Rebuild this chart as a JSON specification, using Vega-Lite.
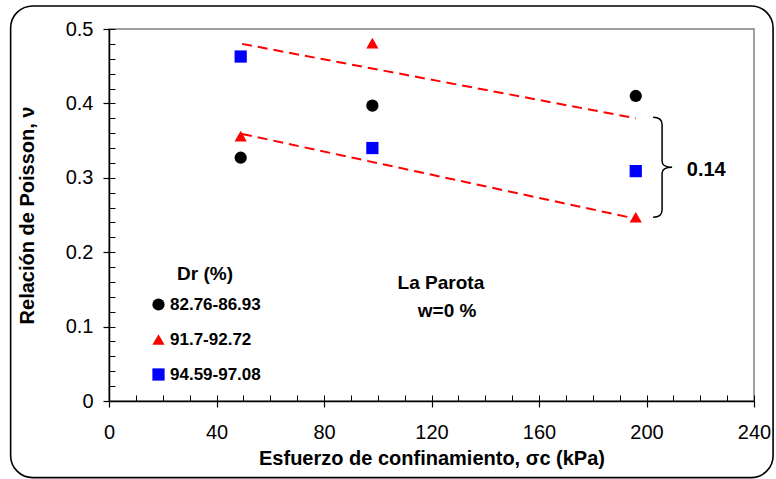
{
  "$schema": "https://vega.github.io/schema/vega-lite/v6.json",
  "autosize": {"type": "none"},
  "width": 645,
  "height": 372,
  "padding": {"left": 109, "top": 29, "right": 22, "bottom": 78},
  "background": "white",
  "config": {
    "font": "Liberation Sans",
    "view": {"stroke": "#808080", "strokeWidth": 1.5},
    "axis": {"grid": false, "labelFlush": false, "labelOverlap": false, "domainColor": "black", "domainWidth": 1.5, "tickColor": "black", "tickWidth": 1.2, "labelColor": "black", "titleColor": "black", "labelFont": "Liberation Sans", "titleFont": "Liberation Sans"},
    "legend": {"labelFont": "Liberation Sans", "titleFont": "Liberation Sans"}
  },
  "datasets": {
    "pts": [
      {"x": 49, "y": 0.327, "Dr": "82.76-86.93"},
      {"x": 98, "y": 0.397, "Dr": "82.76-86.93"},
      {"x": 196, "y": 0.41, "Dr": "82.76-86.93"},
      {"x": 49, "y": 0.356, "Dr": "91.7-92.72"},
      {"x": 98, "y": 0.481, "Dr": "91.7-92.72"},
      {"x": 196, "y": 0.247, "Dr": "91.7-92.72"},
      {"x": 49, "y": 0.463, "Dr": "94.59-97.08"},
      {"x": 98, "y": 0.34, "Dr": "94.59-97.08"},
      {"x": 196, "y": 0.309, "Dr": "94.59-97.08"}
    ],
    "lines": [
      {"x": 49.5, "y": 0.48, "grp": "upper"},
      {"x": 196, "y": 0.38, "grp": "upper"},
      {"x": 49.5, "y": 0.359, "grp": "lower"},
      {"x": 196, "y": 0.245, "grp": "lower"}
    ],
    "notes": [
      {"x": 123.5, "y": 0.158, "label": "La Parota"},
      {"x": 125.8, "y": 0.1205, "label": "w=0 %"}
    ],
    "gap": [{"x": 215, "y": 0.31, "label": "0.14"}],
    "brace": [{"x": 205.8, "y": 0.3143}],
    "frame": [{"x1": -36.6, "x2": 247.1, "y1": -0.103, "y2": 0.531}]
  },
  "resolve": {"axis": {"x": "independent", "y": "independent"}},
  "layer": [
    {
      "data": {"name": "frame"},
      "mark": {"type": "rect", "fill": null, "fillOpacity": 0, "stroke": "black", "strokeWidth": 1.6, "cornerRadius": 22, "clip": false},
      "encoding": {
        "x": {"field": "x1", "type": "quantitative", "scale": {"domain": [0, 240], "nice": false, "zero": false}, "axis": null},
        "x2": {"field": "x2"},
        "y": {"field": "y1", "type": "quantitative", "scale": {"domain": [0, 0.5], "nice": false, "zero": false}, "axis": null},
        "y2": {"field": "y2"}
      }
    },
    {
      "data": {"name": "lines"},
      "mark": {"type": "line", "color": "#FF0000", "strokeWidth": 2, "strokeDash": [10, 6]},
      "encoding": {
        "x": {"field": "x", "type": "quantitative", "scale": {"domain": [0, 240], "nice": false, "zero": false},
          "axis": {"orient": "bottom", "values": [0,10,20,30,40,50,60,70,80,90,100,110,120,130,140,150,160,170,180,190,200,210,220,230,240], "tickSize": -6, "labels": false, "domain": false, "title": null, "tickWidth": 1}},
        "y": {"field": "y", "type": "quantitative", "scale": {"domain": [0, 0.5], "nice": false, "zero": false},
          "axis": {"orient": "left", "values": [0,0.02,0.04,0.06,0.08,0.1,0.12,0.14,0.16,0.18,0.2,0.22,0.24,0.26,0.28,0.3,0.32,0.34,0.36,0.38,0.4,0.42,0.44,0.46,0.48,0.5], "tickSize": -6, "labels": false, "domain": false, "title": null, "tickWidth": 1}},
        "detail": {"field": "grp"}
      }
    },
    {
      "data": {"name": "pts"},
      "mark": {"type": "point", "filled": true, "size": 150, "opacity": 1},
      "encoding": {
        "x": {"field": "x", "type": "quantitative", "scale": {"domain": [0, 240], "nice": false, "zero": false},
          "axis": {"orient": "bottom", "values": [0,40,80,120,160,200,240], "format": "d", "tickSize": 6, "labelFontSize": 20, "labelPadding": 15,
            "title": "Esfuerzo de confinamiento, σc (kPa)", "titleFontSize": 20, "titleFontWeight": "bold", "titlePadding": 6}},
        "y": {"field": "y", "type": "quantitative", "scale": {"domain": [0, 0.5], "nice": false, "zero": false},
          "axis": {"orient": "left", "values": [0,0.1,0.2,0.3,0.4,0.5], "format": "~g", "tickSize": 6, "labelFontSize": 20, "labelPadding": 10,
            "title": "Relación de Poisson, ν", "titleFontSize": 20, "titleFontWeight": "bold", "titlePadding": 28}},
        "color": {"field": "Dr", "type": "nominal",
          "scale": {"domain": ["82.76-86.93", "91.7-92.72", "94.59-97.08"], "range": ["#000000", "#FF0000", "#0000FF"]},
          "legend": {"title": "Dr (%)", "orient": "none", "legendX": 41, "legendY": 236, "titleFontSize": 19, "titleFontWeight": "bold", "titleColor": "black", "titleAnchor": "middle",
            "labelFontSize": 17, "labelFontWeight": "bold", "labelColor": "black", "symbolSize": 150, "symbolStrokeWidth": 0, "rowPadding": 17, "titlePadding": 12, "labelOffset": 3}},
        "shape": {"field": "Dr", "type": "nominal",
          "scale": {"domain": ["82.76-86.93", "91.7-92.72", "94.59-97.08"], "range": ["circle", "triangle-up", "square"]},
          "legend": {"title": "Dr (%)", "orient": "none", "legendX": 41, "legendY": 236, "titleFontSize": 19, "titleFontWeight": "bold", "titleColor": "black", "titleAnchor": "middle",
            "labelFontSize": 17, "labelFontWeight": "bold", "labelColor": "black", "symbolSize": 150, "symbolStrokeWidth": 0, "rowPadding": 17, "titlePadding": 12, "labelOffset": 3}}
      }
    },
    {
      "data": {"name": "brace"},
      "mark": {"type": "point", "filled": false, "stroke": "black", "strokeWidth": 1.5, "size": 10000, "opacity": 1,
        "shape": "M-0.18,-1 C-0.06,-1 0,-0.96 0,-0.85 L0,-0.12 C0,-0.04 0.08,0 0.2,0 C0.08,0 0,0.04 0,0.12 L0,0.85 C0,0.96 -0.06,1 -0.18,1"},
      "encoding": {
        "x": {"field": "x", "type": "quantitative", "scale": {"domain": [0, 240], "nice": false, "zero": false}, "axis": null},
        "y": {"field": "y", "type": "quantitative", "scale": {"domain": [0, 0.5], "nice": false, "zero": false}, "axis": null}
      }
    },
    {
      "data": {"name": "notes"},
      "mark": {"type": "text", "fontWeight": "bold", "fontSize": 19, "color": "black", "baseline": "middle", "align": "center"},
      "encoding": {
        "x": {"field": "x", "type": "quantitative", "scale": {"domain": [0, 240], "nice": false, "zero": false}, "axis": null},
        "y": {"field": "y", "type": "quantitative", "scale": {"domain": [0, 0.5], "nice": false, "zero": false}, "axis": null},
        "text": {"field": "label"}
      }
    },
    {
      "data": {"name": "gap"},
      "mark": {"type": "text", "fontWeight": "bold", "fontSize": 20, "color": "black", "baseline": "middle", "align": "left"},
      "encoding": {
        "x": {"field": "x", "type": "quantitative", "scale": {"domain": [0, 240], "nice": false, "zero": false}, "axis": null},
        "y": {"field": "y", "type": "quantitative", "scale": {"domain": [0, 0.5], "nice": false, "zero": false}, "axis": null},
        "text": {"field": "label"}
      }
    }
  ]
}
